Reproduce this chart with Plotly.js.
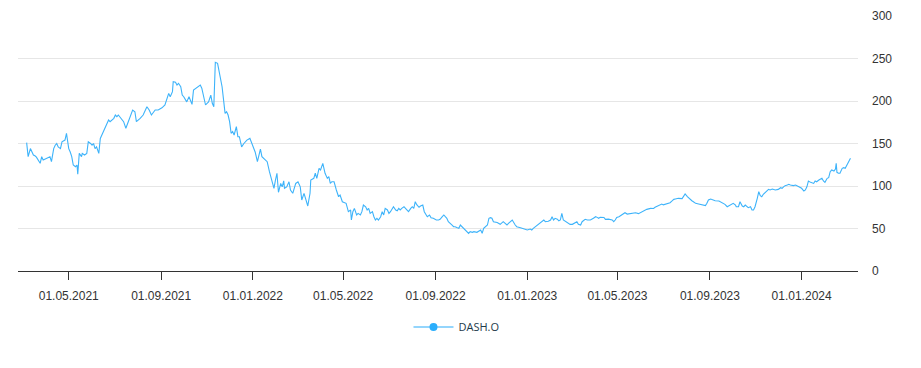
<!DOCTYPE html>
<html>
<head>
<meta charset="utf-8">
<script src="https://cdn.plot.ly/plotly-3.0.1.min.js"></script>
<style>html,body{margin:0;padding:0;background:#fff;}#chart{width:921px;height:368px;}</style>
</head>
<body>
<div id="chart"></div>
<script>
const seriesName = 'DASH.O';
const xTickFormat = '%d.%m.%Y';
const yTicks = [0, 50, 100, 150, 200, 250, 300];

const dates2021 = ['2021-03-06','2021-03-08','2021-03-11','2021-03-13','2021-03-15','2021-03-17','2021-03-19','2021-03-24','2021-03-26','2021-03-28',
'2021-04-02','2021-04-06','2021-04-08','2021-04-11','2021-04-13','2021-04-15','2021-04-17','2021-04-20','2021-04-22','2021-04-26','2021-04-28',
'2021-05-01','2021-05-03','2021-05-05','2021-05-07','2021-05-10','2021-05-12','2021-05-13','2021-05-15','2021-05-18','2021-05-19','2021-05-22','2021-05-25','2021-05-27','2021-05-30',
'2021-06-01','2021-06-03','2021-06-05','2021-06-07','2021-06-10','2021-06-12','2021-06-14','2021-06-18','2021-06-23','2021-06-25','2021-06-30',
'2021-07-02','2021-07-04','2021-07-06','2021-07-08','2021-07-13','2021-07-16','2021-07-19','2021-07-25','2021-07-28','2021-07-30',
'2021-08-04','2021-08-08','2021-08-13','2021-08-16','2021-08-19','2021-08-24','2021-08-28',
'2021-09-02','2021-09-06','2021-09-08','2021-09-11','2021-09-13','2021-09-16','2021-09-17','2021-09-20','2021-09-22','2021-09-24','2021-09-27','2021-09-29',
'2021-10-01','2021-10-03','2021-10-05','2021-10-08','2021-10-10','2021-10-12','2021-10-14','2021-10-17','2021-10-21','2021-10-23','2021-10-25','2021-10-28','2021-10-30',
'2021-11-01','2021-11-03','2021-11-06','2021-11-08','2021-11-10','2021-11-12','2021-11-15','2021-11-17','2021-11-20','2021-11-21','2021-11-23','2021-11-25','2021-11-27','2021-11-29',
'2021-12-01','2021-12-03','2021-12-05','2021-12-07','2021-12-10','2021-12-12','2021-12-14','2021-12-17','2021-12-20','2021-12-24','2021-12-28','2021-12-31'];
const values2021 = [151,134.5,144,140,136.5,135.6,134,126.7,134.5,130.6,
133,134.5,128.6,144,148,150,146,144,152,154,162,
144,140,134.5,124.7,122.7,124.7,114,138.4,134.5,138.4,136.5,138.4,152,150,
148,150,144,146,138.4,156,160,168,177.6,175.7,179.6,
183.5,181.5,183.5,181.5,175.7,168,175.7,189.4,187.4,175.7,
179.6,183.5,193.3,189.4,183.5,189.4,189.4,
192,195.3,200,209,205,211,222.7,222,218.8,220.8,216.8,207,
205,201,199,205,201,196,213,215,216.8,218.8,215,205,195.3,
197.3,199,207,197.3,193.3,245.5,244.3,234.5,222.7,216.8,201,185.5,187.4,183.5,
175.7,162,164,160,169.8,158,158,146,150,154,156,150];

const dates2022 = ['2022-01-04','2022-01-07','2022-01-09','2022-01-11','2022-01-13','2022-01-18','2022-01-20','2022-01-23','2022-01-27','2022-01-29','2022-01-31',
'2022-02-02','2022-02-04','2022-02-07','2022-02-09','2022-02-11','2022-02-12','2022-02-15','2022-02-18','2022-02-20','2022-02-23','2022-02-27',
'2022-03-02','2022-03-05','2022-03-07','2022-03-10','2022-03-12','2022-03-15','2022-03-18','2022-03-19','2022-03-23','2022-03-25','2022-03-27','2022-03-30',
'2022-04-01','2022-04-03','2022-04-04','2022-04-07','2022-04-10','2022-04-12','2022-04-14','2022-04-16','2022-04-19','2022-04-22','2022-04-25','2022-04-27','2022-04-30',
'2022-05-05','2022-05-08','2022-05-11','2022-05-12','2022-05-14','2022-05-16','2022-05-19','2022-05-21','2022-05-24','2022-05-26','2022-05-28','2022-05-31',
'2022-06-02','2022-06-04','2022-06-06','2022-06-09','2022-06-11','2022-06-13','2022-06-15','2022-06-17','2022-06-20','2022-06-22','2022-06-24','2022-06-26','2022-06-29',
'2022-07-01','2022-07-03','2022-07-05','2022-07-07','2022-07-10','2022-07-12','2022-07-14','2022-07-16','2022-07-18','2022-07-21','2022-07-23','2022-07-25','2022-07-27','2022-07-30',
'2022-08-01','2022-08-03','2022-08-05','2022-08-07','2022-08-10','2022-08-12','2022-08-15','2022-08-17','2022-08-21','2022-08-24','2022-08-26','2022-08-29',
'2022-09-02','2022-09-05','2022-09-07','2022-09-10','2022-09-12','2022-09-14','2022-09-16','2022-09-18','2022-09-21','2022-09-23','2022-09-25','2022-09-27','2022-09-30',
'2022-10-02','2022-10-04','2022-10-06','2022-10-08','2022-10-11','2022-10-13','2022-10-15','2022-10-17','2022-10-20','2022-10-22','2022-10-26','2022-10-31',
'2022-11-02','2022-11-04','2022-11-06','2022-11-09','2022-11-11','2022-11-13','2022-11-15','2022-11-17','2022-11-22','2022-11-26','2022-11-30',
'2022-12-03','2022-12-05','2022-12-07','2022-12-09','2022-12-12','2022-12-16','2022-12-18','2022-12-23','2022-12-25','2022-12-27','2022-12-29'];
const values2022 = [140,128.6,134.5,143.5,134.5,130.6,128.6,116.8,103,97.3,107,
115,92.6,103,99,106,97.3,99,105,95.3,91.4,103,
105,99,83.5,91.4,85.5,76.5,91.4,107,109,115,109,120.8,
118.8,124.7,126.7,115,109,111,103,105,105,95.3,87.4,89.4,81.5,
79.6,69.8,71.8,60,69.8,73.7,65.9,67.8,65.9,69.8,77.6,75.6,
71.8,73.7,67.8,69.8,63.9,60,62,60,63.9,69.8,65.9,73.7,71.8,
67.8,69.8,73.7,75.6,71.8,70.9,73.7,71.8,73.7,75.6,73.7,71.8,69.8,73.7,
75.6,73.7,81.5,78,75,76.5,77.6,69.8,63.9,65.9,62.7,62,
60,60,60.8,63.9,65.9,63.9,62,58,56.1,54.1,52.1,52.1,50.9,
50.2,54.1,52.1,50.2,48.2,46.3,44.3,46.3,45.5,46.3,45.5,48.2,
44.3,50.2,52.1,54.1,62,62.7,62,58,57,54.9,58,
54.9,54.1,56.1,58,60,54.1,52.1,50.9,50.2,49.4,49];

const dates2023 = ['2023-01-01','2023-01-05','2023-01-07','2023-01-09','2023-01-12','2023-01-14','2023-01-16','2023-01-18','2023-01-21','2023-01-23','2023-01-25','2023-01-29',
'2023-02-01','2023-02-03','2023-02-05','2023-02-07','2023-02-10','2023-02-12','2023-02-14','2023-02-16','2023-02-18','2023-02-21','2023-02-23','2023-02-25','2023-02-27',
'2023-03-02','2023-03-04','2023-03-06','2023-03-08','2023-03-10','2023-03-13','2023-03-15','2023-03-17','2023-03-19','2023-03-22','2023-03-26','2023-03-30',
'2023-04-02','2023-04-04','2023-04-06','2023-04-08','2023-04-13','2023-04-15','2023-04-19','2023-04-24','2023-04-26','2023-04-28','2023-04-30',
'2023-05-03','2023-05-07','2023-05-09','2023-05-11','2023-05-14','2023-05-18','2023-05-25','2023-05-29',
'2023-06-03','2023-06-07','2023-06-09','2023-06-14','2023-06-18','2023-06-20','2023-06-23','2023-06-27','2023-06-29',
'2023-07-01','2023-07-04','2023-07-06','2023-07-10','2023-07-13','2023-07-15','2023-07-17','2023-07-21','2023-07-26','2023-07-28','2023-07-30',
'2023-08-02','2023-08-04','2023-08-06','2023-08-08','2023-08-10','2023-08-13','2023-08-17','2023-08-21','2023-08-26','2023-08-28','2023-08-30',
'2023-09-02','2023-09-06','2023-09-08','2023-09-13','2023-09-15','2023-09-19','2023-09-21','2023-09-24','2023-09-28','2023-09-30',
'2023-10-02','2023-10-05','2023-10-06','2023-10-09','2023-10-11','2023-10-14','2023-10-16','2023-10-18','2023-10-20','2023-10-22','2023-10-25','2023-10-27','2023-10-29','2023-10-31',
'2023-11-03','2023-11-05','2023-11-07','2023-11-09','2023-11-11','2023-11-14','2023-11-16','2023-11-18','2023-11-20','2023-11-23','2023-11-27',
'2023-12-01','2023-12-04','2023-12-06','2023-12-08','2023-12-10','2023-12-13','2023-12-15','2023-12-17','2023-12-21','2023-12-24','2023-12-26','2023-12-30'];
const values2023 = [48.2,49.4,48.2,50.2,52.1,53.3,54.9,56.1,58.8,60,58,58.5,
60,63.9,60,62,61,59,60,67.8,60,58,56.9,56.1,54.9,
54.9,56.1,56.9,58,54.9,54.1,58,60,60.8,60,60,62,
63.9,63.1,62,63.1,63,60.8,61,60,58,60,63.1,
63.9,65.9,67.8,68.6,67,67.5,68.6,67.5,
69.8,71.8,72.5,73.7,73.5,74.9,76.5,77.6,78.8,
77.8,78.8,79.6,80.4,82.7,84.3,84.7,85.5,85.2,87.4,90.6,
87.4,85.5,83.5,82.7,81.5,79.6,78.8,77.6,76.9,79.6,83.5,
84.7,83.5,82.7,82.3,81.5,79.6,78.4,75.6,77.6,78.8,
79.6,77.6,75.6,75.6,81.5,76.5,75.6,77.6,75.6,74.5,75.6,71.8,71.8,75.6,
85.5,93.3,88.6,87.4,90.2,92.6,94.1,96.1,95.3,96.5,95.3,
96,98,97.3,99,100.4,101.2,102,101.2,100.5,101.2,100.4,99];

const dates2024 = ['2024-01-01','2024-01-04','2024-01-06','2024-01-08','2024-01-10','2024-01-13','2024-01-17','2024-01-19','2024-01-21','2024-01-24','2024-01-28','2024-01-30',
'2024-02-01','2024-02-04','2024-02-06','2024-02-08','2024-02-10','2024-02-13','2024-02-15','2024-02-16','2024-02-17','2024-02-19','2024-02-21','2024-02-24','2024-02-26','2024-02-28',
'2024-03-01','2024-03-03','2024-03-06'];
const values2024 = [97.3,94.1,95.3,99,105.9,104.3,103,105.9,105,107,109,105.9,
104.3,109,109.8,116.8,118.8,117.6,120,126.7,116.1,115,115,120.8,121.6,120.8,
124.7,128.6,132.6];

const dates = [].concat(dates2021, dates2022, dates2023, dates2024);
const values = [].concat(values2021, values2022, values2023, values2024);

const lineColor = '#3db3fa';

const traces = [
  {
    x: dates, y: values, type: 'scatter', mode: 'lines',
    line: {color: lineColor, width: 1.1},
    showlegend: false, hoverinfo: 'x+y'
  },
  {
    x: [null], y: [null], type: 'scatter', mode: 'lines+markers',
    name: seriesName,
    line: {color: 'rgba(61,179,250,0.55)', width: 2},
    marker: {color: '#2aaefc', size: 8},
    showlegend: true
  }
];

const layout = {
  width: 921, height: 368,
  margin: {l: 18, r: 63, t: 16, b: 97},
  paper_bgcolor: '#ffffff', plot_bgcolor: '#ffffff',
  font: {family: 'Liberation Sans, Arial, sans-serif', size: 12, color: '#333333'},
  xaxis: {
    type: 'date',
    range: ['2021-02-22 12:00', '2024-03-16'],
    tick0: '2021-01-01', dtick: 'M4',
    tickformat: xTickFormat,
    showgrid: false, zeroline: false,
    showline: true, linecolor: '#333333', linewidth: 1,
    ticks: 'outside', ticklen: 8, tickcolor: '#333333', tickwidth: 1,
    ticklabelstandoff: 6,
    tickfont: {family: 'Liberation Sans, Arial, sans-serif', size: 12, color: '#333333'}
  },
  yaxis: {
    side: 'right',
    range: [0, 300],
    tickvals: yTicks,
    showgrid: true, gridcolor: '#e6e6e6', gridwidth: 1,
    zeroline: false, showline: false, ticks: '',
    ticklabelstandoff: 13,
    tickfont: {family: 'Liberation Sans, Arial, sans-serif', size: 12, color: '#333333'}
  },
  showlegend: true,
  legend: {
    orientation: 'h', x: 0.522, xanchor: 'center', y: -0.22, yanchor: 'middle',
    itemwidth: 40,
    font: {family: 'Open Sans, sans-serif', size: 11, color: '#1d3a4a'},
    bgcolor: 'rgba(0,0,0,0)'
  },
  hovermode: 'x'
};

Plotly.newPlot('chart', traces, layout, {displayModeBar: false, staticPlot: true});
</script>
</body>
</html>
